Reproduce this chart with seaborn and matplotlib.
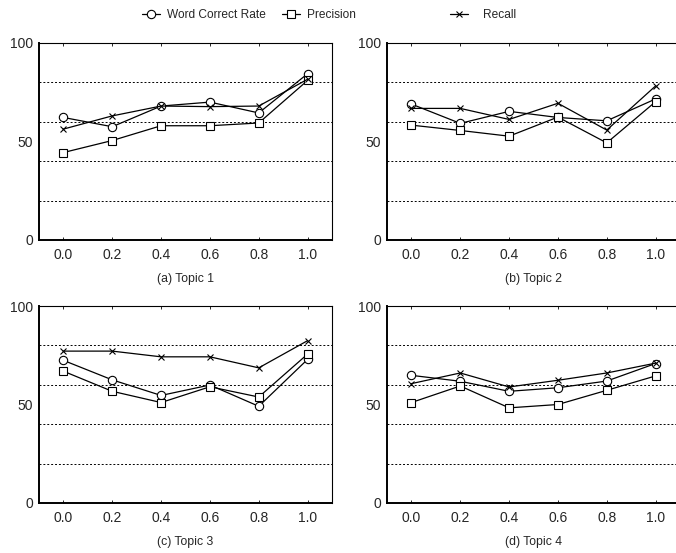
import matplotlib
matplotlib.use("Agg")
import matplotlib.pyplot as plt
import seaborn as sns
import pandas as pd

sns.set_style("ticks")
plt.rcParams['font.family'] = ['Liberation Sans', 'DejaVu Sans']

alphas = [0.0, 0.2, 0.4, 0.6, 0.8, 1.0]
metrics = ["Word Correct Rate", "Precision", "Recall"]
titles = ["(a) Topic 1", "(b) Topic 2", "(c) Topic 3", "(d) Topic 4"]

t1_wcr = [62.2, 57.5, 68.0, 70.0, 64.5, 84.4]
t1_prec = [44.4, 50.5, 58.0, 58.0, 59.4, 81.0]
t1_rec = [56.3, 63.0, 68.0, 67.7, 68.0, 81.6]

t2_wcr = [69.0, 59.2, 65.3, 62.2, 60.5, 71.6]
t2_prec = [58.3, 55.6, 52.7, 62.4, 49.3, 70.2]
t2_rec = [66.8, 66.8, 61.2, 69.4, 55.8, 78.2]

t3_wcr = [72.4, 62.5, 54.6, 59.9, 49.1, 72.9]
t3_prec = [66.9, 56.7, 51.0, 59.0, 53.8, 75.6]
t3_rec = [77.1, 77.1, 74.2, 74.2, 68.6, 82.4]

t4_wcr = [64.8, 61.8, 56.7, 58.5, 61.9, 70.8]
t4_prec = [51.0, 59.4, 48.3, 50.0, 57.2, 64.5]
t4_rec = [60.6, 66.0, 58.9, 62.3, 66.0, 71.0]

topics = [
    (t1_wcr, t1_prec, t1_rec),
    (t2_wcr, t2_prec, t2_rec),
    (t3_wcr, t3_prec, t3_rec),
    (t4_wcr, t4_prec, t4_rec),
]

y_labels = [0, 50, 100]
y_grid = [20, 40, 60, 80]

markers = {"Word Correct Rate": "o", "Precision": "s", "Recall": "x"}
msizes = {"Word Correct Rate": 6, "Precision": 6, "Recall": 4.5}

W, H = 676, 553
fig = plt.figure(figsize=(W / 100, H / 100), dpi=100)

ax_w = 293 / W
ax_h = 197 / H
positions = [
    (39 / W, 1 - 240 / H),
    (387 / W, 1 - 240 / H),
    (39 / W, 1 - 503 / H),
    (387 / W, 1 - 503 / H),
]

tick_fs = 10
cap_fs = 8.8
leg_fs = 8.6
first_lines = None
for i, (vals, title) in enumerate(zip(topics, titles)):
    ax = fig.add_axes([positions[i][0], positions[i][1], ax_w, ax_h])
    rows = []
    for m, v in zip(metrics, vals):
        for a, y in zip(alphas, v):
            rows.append({"alpha": a, "value": y, "metric": m})
    df = pd.DataFrame(rows)
    for m in metrics:
        sub = df[df.metric == m]
        sns.lineplot(data=sub, x="alpha", y="value", ax=ax, color="black",
                     marker=markers[m], markersize=msizes[m],
                     markerfacecolor="white", markeredgecolor="black",
                     markeredgewidth=0.8, linewidth=0.9, label=m,
                     legend=False, zorder=3)
    if first_lines is None:
        first_lines = list(ax.get_lines())
    ax.set_xlim(-0.1, 1.1)
    ax.set_ylim(0, 100)
    ax.set_xticks(alphas)
    ax.set_xticklabels([f"{a:.1f}" for a in alphas], fontsize=tick_fs)
    ax.set_yticks(y_labels)
    ax.set_yticklabels([str(v) for v in y_labels], fontsize=tick_fs)
    ax.set_yticks(y_grid, minor=True)
    ax.grid(True, which="minor", axis="y", color="black",
            linestyle=(0, (2.0, 2.0)), linewidth=0.7)
    ax.grid(False, which="major")
    ax.tick_params(axis="y", which="both", length=0, pad=4.5)
    ax.tick_params(axis="x", which="major", direction="in", length=2.5,
                   width=0.7, top=True, bottom=True, pad=6)
    ax.set_xlabel(title, fontsize=cap_fs, labelpad=8)
    ax.set_ylabel("")
    for side in ["left", "bottom"]:
        ax.spines[side].set_linewidth(1.4)
    for side in ["top", "right"]:
        ax.spines[side].set_visible(True)
        ax.spines[side].set_linewidth(0.8)
    for s in ax.spines.values():
        s.set_color("black")

legend_x = [142 / W, 282 / W, 450 / W]
for line, m, lx in zip(first_lines, metrics, legend_x):
    fig.legend([line], [m], loc="center left", bbox_to_anchor=(lx, 1 - 15 / H),
               frameon=False, fontsize=leg_fs, borderpad=0, borderaxespad=0,
               handlelength=1.5, handletextpad=0.6 if m != "Recall" else 1.3)

fig.savefig("out.png", dpi=100)
